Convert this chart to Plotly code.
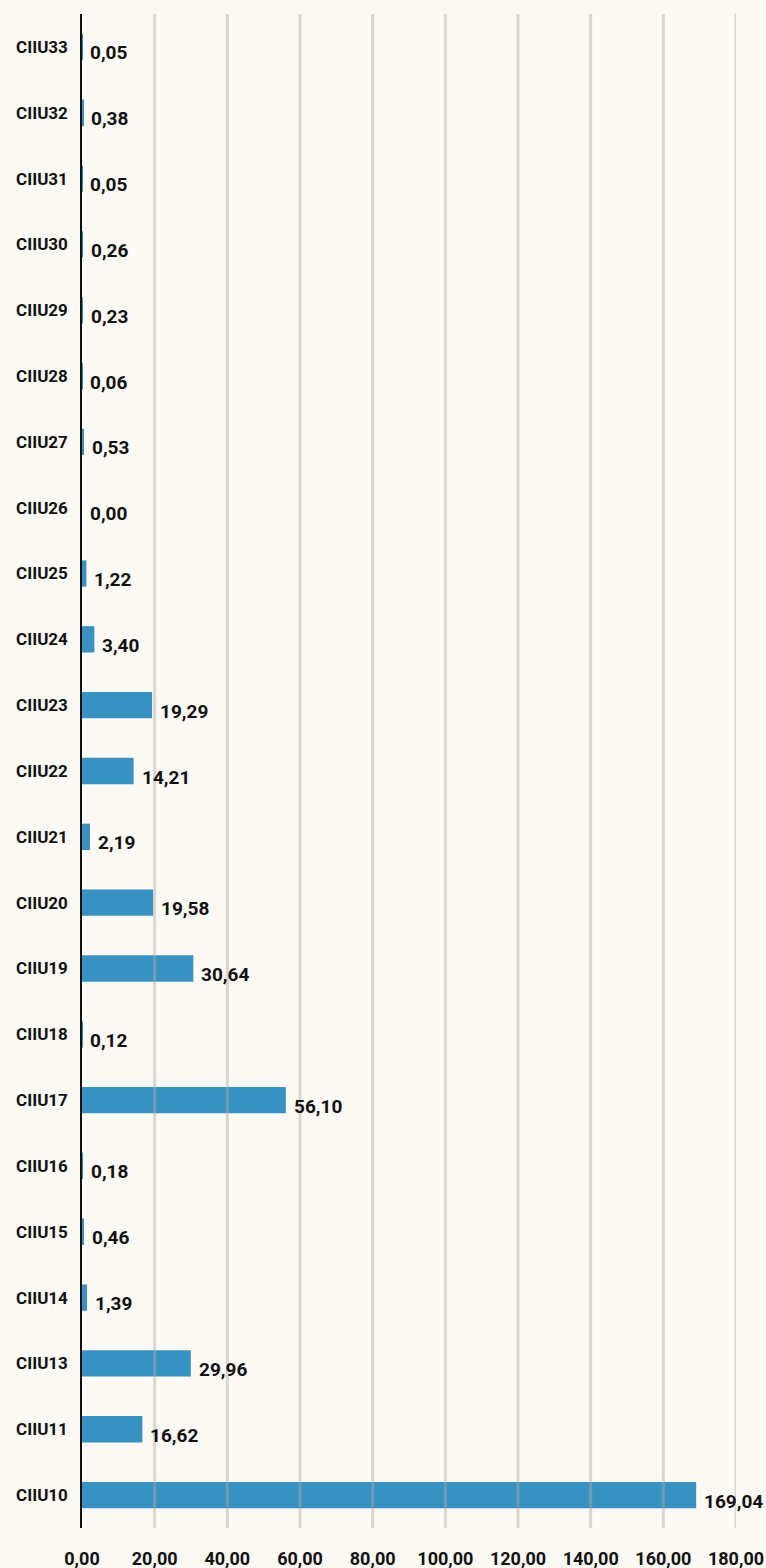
import plotly.graph_objects as go

# Sector codes (bottom to top) and their values
categories = ["CIIU10", "CIIU11", "CIIU13", "CIIU14", "CIIU15", "CIIU16", "CIIU17",
              "CIIU18", "CIIU19", "CIIU20", "CIIU21", "CIIU22", "CIIU23", "CIIU24",
              "CIIU25", "CIIU26", "CIIU27", "CIIU28", "CIIU29", "CIIU30", "CIIU31",
              "CIIU32", "CIIU33"]
values = [169.04, 16.62, 29.96, 1.39, 0.46, 0.18, 56.10,
          0.12, 30.64, 19.58, 2.19, 14.21, 19.29, 3.40,
          1.22, 0.00, 0.53, 0.06, 0.23, 0.26, 0.05,
          0.38, 0.05]
x_ticks = [0, 20, 40, 60, 80, 100, 120, 140, 160, 180]

BAR_COLOR = "#3892c1"
BG = "#fdf9f5"
FONT = "Roboto"

y_lo, y_hi = -0.5, len(categories) - 0.5

fig = go.Figure(go.Bar(
    y=categories,
    x=values,
    orientation="h",
    marker=dict(color=BAR_COLOR, line=dict(width=0)),
    hoverinfo="x+y",
))

# Value labels beside each bar
for cat, val in zip(categories, values):
    fig.add_annotation(
        x=val, y=cat, xref="x", yref="y",
        text=f"{val:.2f}".replace(".", ","),
        showarrow=False, xanchor="left", yanchor="middle",
        xshift=6, yshift=-6,
        font=dict(family=FONT, size=19, color="#111111", weight="bold"),
    )

# Vertical grid lines drawn over the bars, spanning the category range
for t in x_ticks[1:]:
    fig.add_shape(
        type="line", xref="x", yref="y",
        x0=t, x1=t, y0=y_lo, y1=y_hi,
        line=dict(color="rgba(175,170,165,0.45)", width=3),
        layer="above",
    )

fig.update_layout(
    width=766, height=1568,
    margin=dict(l=82, r=30, t=14, b=40),
    paper_bgcolor=BG, plot_bgcolor=BG,
    bargap=0.6,
    separators=",.",
    showlegend=False,
    font=dict(family=FONT, color="#111111"),
    xaxis=dict(
        range=[0, 180],
        tickvals=x_ticks,
        tickformat=".2f",
        showgrid=False,
        zeroline=False,
        showline=False,
        ticks="",
        automargin=False,
        ticklabelstandoff=18,
        tickfont=dict(family=FONT, size=18, color="#111111", weight="bold"),
        fixedrange=True,
    ),
    yaxis=dict(
        categoryorder="array",
        categoryarray=categories,
        range=[y_lo, y_hi],
        showgrid=False,
        zeroline=False,
        showline=True,
        linecolor="#111111",
        linewidth=1.5,
        layer="above traces",
        ticks="",
        automargin=False,
        ticklabelstandoff=9,
        tickfont=dict(family=FONT, size=17, color="#111111", weight="bold"),
        fixedrange=True,
    ),
)

fig.write_html("out.html")
